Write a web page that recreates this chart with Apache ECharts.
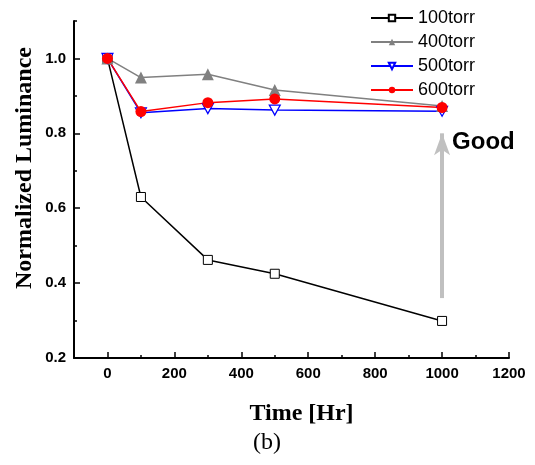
<!DOCTYPE html>
<html>
<head>
<meta charset="utf-8">
<script src="https://cdn.jsdelivr.net/npm/echarts@6/dist/echarts.min.js"></script>
<style>html,body{margin:0;padding:0;background:#fff}#c{width:535px;height:465px}</style>
</head>
<body>
<div id="c"></div>
<script>
const timeHr = [0, 100, 300, 500, 1000];
const seriesNames = ['100torr', '400torr', '500torr', '600torr'];
const lum100 = [1.0, 0.630, 0.462, 0.425, 0.299];
const lum400 = [1.0, 0.949, 0.958, 0.916, 0.873];
const lum500 = [1.0, 0.855, 0.866, 0.862, 0.859];
const lum600 = [1.0, 0.858, 0.882, 0.892, 0.869];
const xMajorTicks = [0, 200, 400, 600, 800, 1000, 1200];
const xMinorTicks = [100, 300, 500, 700, 900, 1100];
const yMajorTicks = [0.2, 0.4, 0.6, 0.8, 1.0];
const yMinorTicks = [0.3, 0.5, 0.7, 0.9, 1.1];
const arrowX = 1000;
const arrowFrom = 0.36;
const arrowTo = 0.80;
const goodLabel = 'Good';
const goodY = 0.777;

const pairs = arr => timeHr.map((t, i) => [t, arr[i]]);
const chart = echarts.init(document.getElementById('c'), null, {renderer: 'canvas'});
const axisCommon = {
  axisLine: {show: true, onZero: false, lineStyle: {color: '#000', width: 2}},
  splitLine: {show: false}
};
chart.setOption({
  animation: false,
  backgroundColor: '#fff',
  title: {text: '(b)', left: 248, top: 426,
    textStyle: {fontFamily: 'Liberation Serif', fontSize: 24, fontWeight: 'normal', color: '#000'}},
  grid: {left: 74, right: 26, top: 21, bottom: 107, containLabel: false},
  legend: {
    orient: 'vertical', left: 365, top: 4, itemWidth: 42, itemHeight: 8, itemGap: 6,
    data: seriesNames,
    textStyle: {fontFamily: 'Liberation Sans', fontSize: 18, color: '#000', lineHeight: 18, padding: [0,0,0,0]}
  },
  xAxis: [
    Object.assign({}, axisCommon, {
      type: 'value', min: -100, max: 1200, interval: 100, position: 'bottom',
      name: 'Time [Hr]', nameLocation: 'middle', nameGap: 44,
      nameTextStyle: {fontFamily: 'Liberation Serif', fontSize: 24, fontWeight: 'bold', color: '#000', padding: [0,0,0,20]},
      axisTick: {show: true, inside: true, length: 6, lineStyle: {color: '#000', width: 1.5}, customValues: xMajorTicks},
      axisLabel: {show: true, margin: 8, customValues: xMajorTicks, formatter: v => String(v),
        fontFamily: 'Liberation Sans', fontSize: 15, fontWeight: 'bold', color: '#000'}
    }),
    {
      type: 'value', min: -100, max: 1200, interval: 100, position: 'bottom', gridIndex: 0,
      axisLine: {show: false, onZero: false}, splitLine: {show: false}, axisLabel: {show: false},
      axisTick: {show: true, inside: true, length: 3, lineStyle: {color: '#000', width: 1.5}, customValues: xMinorTicks}
    }
  ],
  yAxis: [
    Object.assign({}, axisCommon, {
      type: 'value', min: 0.2, max: 1.1, interval: 0.1, position: 'left',
      axisTick: {show: true, inside: true, length: 6, lineStyle: {color: '#000', width: 1.5}, customValues: yMajorTicks},
      axisLabel: {show: true, margin: 8, customValues: yMajorTicks, formatter: v => v.toFixed(1),
        fontFamily: 'Liberation Sans', fontSize: 15, fontWeight: 'bold', color: '#000'}
    }),
    {
      type: 'value', min: 0.2, max: 1.1, interval: 0.1, position: 'left', gridIndex: 0,
      axisLine: {show: false, onZero: false}, splitLine: {show: false}, axisLabel: {show: false},
      axisTick: {show: true, inside: true, length: 3, lineStyle: {color: '#000', width: 1.5}, customValues: yMinorTicks}
    }
  ],
  graphic: [{
    type: 'text', x: 25, y: 168, rotation: Math.PI / 2,
    style: {text: 'Normalized Luminance', fontFamily: 'Liberation Serif', fontSize: 24, fontWeight: 'bold',
      fill: '#000', textAlign: 'center', textVerticalAlign: 'middle'}
  }],
  series: [
    {
      name: seriesNames[0], type: 'line', data: pairs(lum100), symbol: 'rect', symbolSize: 9,
      color: '#000', lineStyle: {color: '#000', width: 1.5},
      itemStyle: {color: '#fff', borderColor: '#000', borderWidth: 1},
      markLine: {
        silent: true, symbol: ['none', 'arrow'], symbolSize: [12, 22],
        lineStyle: {color: '#c0c0c0', width: 4, type: 'solid'},
        label: {show: false},
        data: [[{coord: [arrowX, arrowFrom]}, {coord: [arrowX, arrowTo]}]]
      },
      markPoint: {
        silent: true, symbol: 'circle', symbolSize: 0,
        label: {show: true, position: 'right', distance: 10, formatter: goodLabel,
          fontFamily: 'Liberation Sans', fontSize: 24, fontWeight: 'bold', color: '#000'},
        data: [{coord: [arrowX, goodY]}]
      }
    },
    {
      name: seriesNames[1], type: 'line', data: pairs(lum400), symbol: 'triangle', symbolSize: 12,
      color: '#808080', lineStyle: {color: '#808080', width: 1.5},
      itemStyle: {color: '#808080'}
    },
    {
      name: seriesNames[2], type: 'line', data: pairs(lum500), symbol: 'path://M0,0 L10,0 L5,9 Z', symbolSize: [11, 10],
      color: '#0000ff', lineStyle: {color: '#0000ff', width: 1.5},
      itemStyle: {color: '#fff', borderColor: '#0000ff', borderWidth: 1.2}
    },
    {
      name: seriesNames[3], type: 'line', data: pairs(lum600), symbol: 'circle', symbolSize: 11,
      color: '#ff0000', lineStyle: {color: '#ff0000', width: 1.5},
      itemStyle: {color: '#ff0000'}
    }
  ]
});
</script>
</body>
</html>
